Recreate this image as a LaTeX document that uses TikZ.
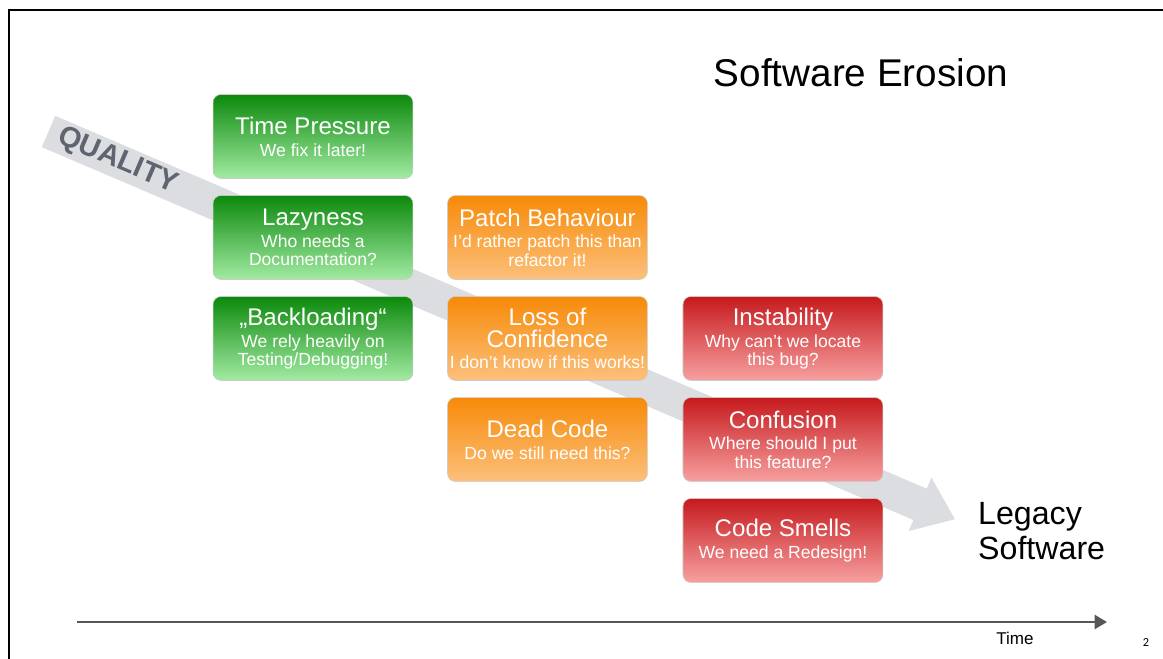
\documentclass[tikz,border=0pt]{standalone}
\usepackage{fontspec}
\setmainfont{Liberation Sans}
\newfontfamily\pagefont{Carlito}
\usetikzlibrary{positioning,arrows.meta}

\definecolor{greentop}{HTML}{0C890C}
\definecolor{greenbot}{HTML}{A2EBA2}
\definecolor{orangetop}{HTML}{F78A08}
\definecolor{orangebot}{HTML}{FCC07C}
\definecolor{redtop}{HTML}{C61A1D}
\definecolor{redbot}{HTML}{F7A0A0}
\definecolor{bandgray}{HTML}{DCDDE0}
\definecolor{qualgray}{HTML}{5E6570}
\definecolor{axisgray}{HTML}{5A5656}

\newcommand{\ctitle}{\fontsize{13.7}{14}\selectfont}

\tikzset{
  card/.style={rounded corners=0.16cm, draw=black!20, line width=0.3pt,
    minimum width=4cm, minimum height=1.68cm, inner xsep=0pt, inner ysep=2pt,
    align=center, text=white, font=\fontsize{10}{10.4}\selectfont},
  greencard/.style={card, top color=greentop, bottom color=greenbot},
  orangecard/.style={card, top color=orangetop, bottom color=orangebot},
  redcard/.style={card, top color=redtop, bottom color=redbot}
}

\begin{document}
\begin{tikzpicture}[x=0.02cm, y=-0.02cm]
  \useasboundingbox (0,0) rectangle (1163,659);
  \draw[line width=0.9pt] (9,659) -- (9,10) -- (1163,10);

  % quality band
  \begin{scope}[shift={(48.5,131.5)}, rotate=-23.16]
    \fill[bandgray] (0,-17) -- (948,-17) -- (948,-29) -- (986,0) -- (948,29) -- (948,17) -- (0,17) -- cycle;
    \node[rotate=-23.16, text=qualgray, font=\fontsize{16.5}{16.5}\selectfont\bfseries] (quality) at (75,0) {QUALITY};
  \end{scope}

  \node[font=\fontsize{22}{22}\selectfont] (title) at (861,73) {Software Erosion};

  \node[greencard] (time) at (313,136.5) {{\ctitle Time Pressure}\\[2pt]We fix it later!};
  \node[greencard, below=0.33cm of time] (lazy) {{\ctitle Lazyness}\\[2pt]Who needs a\\Documentation?};
  \node[greencard, below=0.33cm of lazy] (backload) {{\ctitle „Backloading“}\\[2pt]We rely heavily on\\Testing/Debugging!};

  \node[orangecard, right=0.68cm of lazy] (patch) {{\ctitle Patch Behaviour}\\[2pt]I’d rather patch this than\\refactor it!};
  \node[orangecard, below=0.33cm of patch] (loss) {{\ctitle Loss of}\\[2pt]{\ctitle Confidence}\\[2pt]I don’t know if this works!};
  \node[orangecard, below=0.33cm of loss] (dead) {{\ctitle Dead Code}\\[2pt]Do we still need this?};

  \node[redcard, right=0.7cm of loss] (instab) {{\ctitle Instability}\\[2pt]Why can’t we locate\\this bug?};
  \node[redcard, below=0.33cm of instab] (confuse) {{\ctitle Confusion}\\[2pt]Where should I put\\this feature?};
  \node[redcard, below=0.33cm of confuse] (smells) {{\ctitle Code Smells}\\[2pt]We need a Redesign!};

  \node[anchor=west, align=left, font=\fontsize{18.3}{20}\selectfont] (legacy) at (972,531) {Legacy\\Software};

  % time axis
  \coordinate (tstart) at (77,622);
  \coordinate (tend) at (1107,622);
  \draw[axisgray, line width=1.1pt, -{Triangle[length=7pt,width=8pt]}] (tstart) -- (tend);
  \node[font=\fontsize{9.7}{10}\selectfont] (timelbl) at (1015,638) {Time};
  \node[font=\pagefont\fontsize{7}{7}\selectfont] (pagenum) at (1146,643) {2};
\end{tikzpicture}
\end{document}
